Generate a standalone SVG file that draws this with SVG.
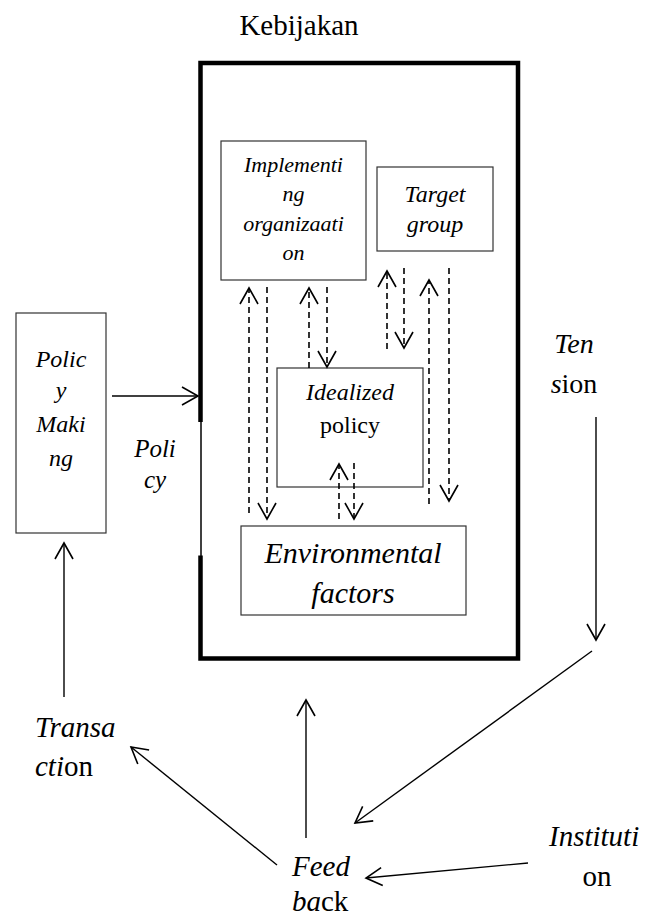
<svg xmlns="http://www.w3.org/2000/svg" width="657" height="917" viewBox="0 0 657 917">
<style>
text{font-family:'Liberation Serif','Times New Roman',serif;fill:#000}
.i{font-style:italic}
.box{fill:#fff;stroke:#333;stroke-width:1.2}
.c{fill:none;stroke:#000;stroke-width:1.4}
.d{fill:none;stroke:#000;stroke-width:1.6;stroke-dasharray:6 4}
</style>
<defs>
<marker id="ah" markerUnits="userSpaceOnUse" markerWidth="24" markerHeight="24" viewBox="-20 -12 24 24" refX="0" refY="0" orient="auto">
<path d="M-16,-9 L0,0 L-16,9" fill="none" stroke="#000" stroke-width="1.6" stroke-dasharray="none"/>
</marker>
</defs>
<g id="title"><text x="299" y="35" font-size="29" text-anchor="middle">Kebijakan</text></g>
<g id="kebijakan-frame">
<path d="M200.5,422 V63 H518 V658.5 H200.5 V555.5" fill="none" stroke="#000" stroke-width="4.5" stroke-linejoin="miter"/>
<line x1="201" y1="420" x2="201" y2="557" stroke="#000" stroke-width="1.5"/>
</g>
<g id="implementing-organization">
<rect class="box" x="221" y="141" width="145" height="139"/>
<text class="i" font-size="22" text-anchor="middle"><tspan x="293.5" y="172">Implementi</tspan><tspan x="293.5" y="201">ng</tspan><tspan x="293.5" y="231">organizaati</tspan><tspan x="293.5" y="260">on</tspan></text>
</g>
<g id="target-group">
<rect class="box" x="377" y="167" width="116" height="84"/>
<text class="i" font-size="24" text-anchor="middle"><tspan x="435" y="202">Target</tspan><tspan x="435" y="232">group</tspan></text>
</g>
<g id="idealized-policy">
<rect class="box" x="277" y="368" width="146" height="119"/>
<text font-size="24" text-anchor="middle"><tspan class="i" x="350" y="400">Idealized</tspan><tspan x="350" y="433">policy</tspan></text>
</g>
<g id="environmental-factors">
<rect class="box" x="241" y="526" width="225" height="89"/>
<text class="i" font-size="30" text-anchor="middle"><tspan x="353" y="563">Environmental</tspan><tspan x="353" y="603">factors</tspan></text>
</g>
<g id="policy-making">
<rect class="box" x="16" y="313" width="90" height="220"/>
<text class="i" font-size="24" text-anchor="middle"><tspan x="61" y="367">Polic</tspan><tspan x="61" y="398">y</tspan><tspan x="61" y="432">Maki</tspan><tspan x="61" y="466">ng</tspan></text>
</g>
<g id="policy-label">
<text class="i" font-size="25" text-anchor="middle"><tspan x="155" y="457">Poli</tspan><tspan x="155" y="488">cy</tspan></text>
</g>
<g id="tension">
<text font-size="28" text-anchor="middle"><tspan class="i" x="574" y="353">Ten</tspan><tspan x="574" y="393"><tspan class="i">s</tspan>ion</tspan></text>
</g>
<g id="transaction">
<text font-size="29"><tspan class="i" x="35" y="737">Transa</tspan><tspan x="35" y="776"><tspan class="i">cti</tspan>on</tspan></text>
</g>
<g id="feedback">
<text font-size="29"><tspan class="i" x="292" y="876">Feed</tspan><tspan x="292" y="911"><tspan class="i">ba</tspan>ck</tspan></text>
</g>
<g id="institution">
<text font-size="29"><tspan class="i" x="549" y="846">Instituti</tspan><tspan x="597" y="886" text-anchor="middle">on</tspan></text>
</g>
<g id="connectors">
<line class="d" x1="249" y1="513" x2="249" y2="288" marker-end="url(#ah)"/>
<line class="d" x1="267" y1="287" x2="267" y2="519" marker-end="url(#ah)"/>
<line class="d" x1="309" y1="368" x2="309" y2="288" marker-end="url(#ah)"/>
<line class="d" x1="327" y1="287" x2="327" y2="367" marker-end="url(#ah)"/>
<line class="d" x1="387" y1="349" x2="387" y2="271" marker-end="url(#ah)"/>
<line class="d" x1="404" y1="268" x2="404" y2="348" marker-end="url(#ah)"/>
<line class="d" x1="429" y1="504" x2="429" y2="280" marker-end="url(#ah)"/>
<line class="d" x1="449" y1="268" x2="449" y2="501" marker-end="url(#ah)"/>
<line class="d" x1="339" y1="519" x2="339" y2="464" marker-end="url(#ah)"/>
<line class="d" x1="354" y1="463" x2="354" y2="519" marker-end="url(#ah)"/>
<line class="c" x1="112" y1="396" x2="198" y2="396" marker-end="url(#ah)"/>
<line class="c" x1="64" y1="697" x2="64" y2="543" marker-end="url(#ah)"/>
<line class="c" x1="596" y1="417" x2="596" y2="640" marker-end="url(#ah)"/>
<line class="c" x1="592" y1="651" x2="355" y2="823" marker-end="url(#ah)"/>
<line class="c" x1="528" y1="863" x2="366" y2="878" marker-end="url(#ah)"/>
<line class="c" x1="277" y1="865" x2="131" y2="747" marker-end="url(#ah)"/>
<line class="c" x1="306" y1="838" x2="306" y2="700" marker-end="url(#ah)"/>
</g>
</svg>
